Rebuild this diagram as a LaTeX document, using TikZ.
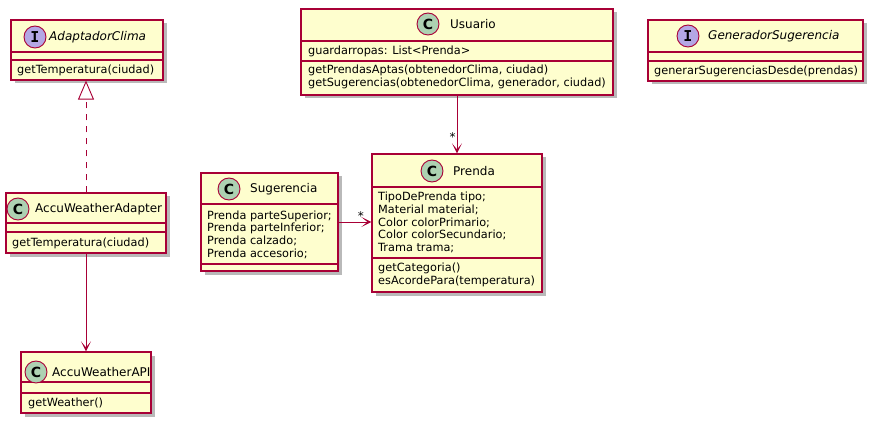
\documentclass[tikz,border=0pt]{standalone}
\usepackage{fontspec}
\setmainfont{DejaVu Sans}
\newfontfamily\badgemono{DejaVu Sans Mono}
\usetikzlibrary{arrows.meta,shadows}
\definecolor{classfill}{HTML}{FEFECE}
\definecolor{classline}{HTML}{A80036}
\definecolor{circC}{HTML}{ADD1B2}
\definecolor{circI}{HTML}{B4A7E5}
\tikzset{
  classbox/.style={draw=classline, fill=classfill, line width=1.2pt, inner sep=0pt,
    drop shadow={shadow xshift=3.5pt, shadow yshift=-3.5pt, fill=black!55, opacity=.5}},
  sep/.style={draw=classline, line width=1.1pt},
  badge/.style={circle, draw=classline, line width=.9pt, minimum size=22pt, inner sep=0pt,
    font=\fontsize{14}{14}\selectfont\bfseries},
  title/.style={anchor=west, inner sep=0pt, font=\fontsize{12}{14}\selectfont},
  members/.style={anchor=west, align=left, inner sep=0pt, font=\fontsize{11.3}{12.8}\selectfont},
  link/.style={draw=classline, line width=.9pt},
  tip/.style={-{Stealth[length=10pt, width=10pt, inset=6pt]}},
  mult/.style={font=\fontsize{12}{12}\selectfont, inner sep=1pt}
}
\begin{document}
\begin{tikzpicture}[x=1pt, y=-1pt]
      \useasboundingbox (0,0) rectangle (878,422);
      \node[classbox, minimum width=152pt, minimum height=60pt] (clima) at (87,50) {};
      \draw[sep] (11,52) -- (163,52) (11,60) -- (163,60);
      \node[badge, fill=circI, font=\fontsize{15}{15}\selectfont\badgemono\bfseries] (climaI) at (35,37) {I};
      \node[title, font=\fontsize{12}{14}\selectfont\itshape] (climaT) at (49,37) {AdaptadorClima};
      \node[members] (climaM) at (17,70) {getTemperatura(ciudad)};

      \node[classbox, minimum width=312pt, minimum height=86pt] (usuario) at (457,52) {};
      \draw[sep] (301,41) -- (613,41) (301,61) -- (613,61);
      \node[badge, fill=circC] (usuarioC) at (428,24) {C};
      \node[title] (usuarioT) at (450,24) {Usuario};
      \node[members] (usuarioA) at (308,51) {guardarropas: List<Prenda>};
      \node[members] (usuarioM) at (308,77) {getPrendasAptas(obtenedorClima, ciudad)\\getSugerencias(obtenedorClima, generador, ciudad)};

      \node[classbox, minimum width=215pt, minimum height=61pt] (generador) at (755.5,50.5) {};
      \draw[sep] (648,52) -- (863,52) (648,61) -- (863,61);
      \node[badge, fill=circI, font=\fontsize{15}{15}\selectfont\badgemono\bfseries] (generadorI) at (688,36) {I};
      \node[title, font=\fontsize{12}{14}\selectfont\itshape] (generadorT) at (708,36) {GeneradorSugerencia};
      \node[members] (generadorM) at (654,71) {generarSugerenciasDesde(prendas)};

      \node[classbox, minimum width=170pt, minimum height=138pt] (prenda) at (457,223) {};
      \draw[sep] (372,187) -- (542,187) (372,258) -- (542,258);
      \node[badge, fill=circC] (prendaC) at (432,171) {C};
      \node[title] (prendaT) at (453,171) {Prenda};
      \node[members] (prendaA) at (378,222.5) {TipoDePrenda tipo;\\Material material;\\Color colorPrimario;\\Color colorSecundario;\\Trama trama;};
      \node[members] (prendaM) at (378,275) {getCategoria()\\esAcordePara(temperatura)};

      \node[classbox, minimum width=137pt, minimum height=98pt] (sugerencia) at (269.5,222) {};
      \draw[sep] (201,204) -- (338,204) (201,264) -- (338,264);
      \node[badge, fill=circC] (sugerenciaC) at (229,189) {C};
      \node[title] (sugerenciaT) at (250,189) {Sugerencia};
      \node[members] (sugerenciaA) at (207,234.7) {Prenda parteSuperior;\\Prenda parteInferior;\\Prenda calzado;\\Prenda accesorio;};

      \node[classbox, minimum width=160pt, minimum height=60pt] (adapter) at (86,223) {};
      \draw[sep] (6,223) -- (166,223) (6,232) -- (166,232);
      \node[badge, fill=circC] (adapterC) at (18,209) {C};
      \node[title] (adapterT) at (35,209) {AccuWeatherAdapter};
      \node[members] (adapterM) at (12,243) {getTemperatura(ciudad)};

      \node[classbox, minimum width=130pt, minimum height=61pt] (api) at (86,382.5) {};
      \draw[sep] (21,382) -- (151,382) (21,393) -- (151,393);
      \node[badge, fill=circC] (apiC) at (36,372) {C};
      \node[title] (apiT) at (52,372) {AccuWeatherAPI};
      \node[members] (apiM) at (28,403) {getWeather()};

      \draw[link, dash pattern=on 6pt off 6pt, -{Triangle[open, length=19pt, width=16pt]}] (adapter.north) -- (adapter.north |- clima.south);
      \draw[link, tip] (adapter.south) -- (api.north);
      \draw[link, tip] (usuario.south) -- node[mult, pos=0.72, left] {*} (prenda.north);
      \draw[link, tip] (sugerencia.east) -- node[mult, pos=0.68, above] {*} (sugerencia.east -| prenda.west);
    \end{tikzpicture}
\end{document}
